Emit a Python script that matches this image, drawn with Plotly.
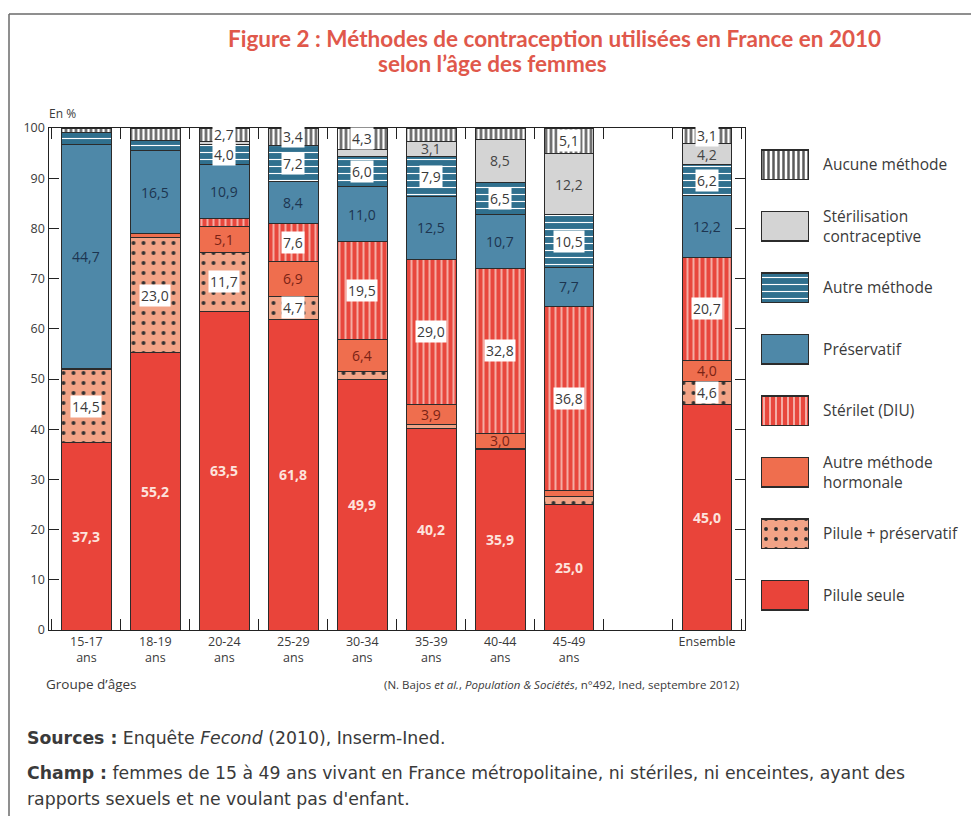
import plotly.graph_objects as go

W, H = 971, 816

categories = ["15-17<br>ans", "18-19<br>ans", "20-24<br>ans", "25-29<br>ans", "30-34<br>ans",
              "35-39<br>ans", "40-44<br>ans", "45-49<br>ans", " ", "Ensemble"]

# stacked from the bottom up, in %
pilule_seule = [37.3, 55.2, 63.5, 61.8, 49.9, 40.2, 35.9, 25.0, None, 45.0]
pilule_preservatif = [14.5, 23.0, 11.7, 4.7, 1.5, 0.8, 0.3, 1.5, None, 4.6]
autre_hormonale = [0.3, 0.8, 5.1, 6.9, 6.4, 3.9, 3.0, 1.2, None, 4.0]
sterilet = [0.0, 0.0, 1.6, 7.6, 19.5, 29.0, 32.8, 36.8, None, 20.7]
preservatif = [44.7, 16.5, 10.9, 8.4, 11.0, 12.5, 10.7, 7.7, None, 12.2]
autre_methode = [2.3, 2.0, 4.0, 7.2, 6.0, 7.9, 6.5, 10.5, None, 6.2]
sterilisation = [0.0, 0.0, 0.5, 0.0, 1.4, 3.1, 8.5, 12.2, None, 4.2]
aucune = [0.9, 2.5, 2.7, 3.4, 4.3, 2.6, 2.3, 5.1, None, 3.1]

series_names = ["Pilule seule", "Pilule + préservatif", "Autre méthode hormonale", "Stérilet (DIU)",
                "Préservatif", "Autre méthode", "Stérilisation contraceptive", "Aucune méthode"]
legend_labels = ["Pilule seule", "Pilule + préservatif", "Autre méthode<br>hormonale", "Stérilet (DIU)",
                 "Préservatif", "Autre méthode", "Stérilisation<br>contraceptive", "Aucune méthode"]
series_values = [pilule_seule, pilule_preservatif, autre_hormonale, sterilet,
                 preservatif, autre_methode, sterilisation, aucune]

FONT = "Open Sans"
NOTE_FONT = "DejaVu Sans"
TEXT = "#3a3a3a"
EDGE = "#2b2b2b"

# marker style, label style (text colour, boxed?, bold?)
STYLES = [
    (dict(color="#e9443a"), ("#fde3dd", False, True)),
    (dict(color="#f2a386", pattern=dict(shape=".", fgcolor="#2f2f2f", bgcolor="#f2a386", size=10, solidity=0.12)),
     (TEXT, True, False)),
    (dict(color="#ef6e4e"), ("#7a2315", False, False)),
    (dict(color="#e8473d", pattern=dict(shape="|", fgcolor="#fbe1da", bgcolor="#e8473d", size=6, solidity=0.22)),
     (TEXT, True, False)),
    (dict(color="#4e88a8"), ("#1d3550", False, False)),
    (dict(color="#30708e", pattern=dict(shape="-", fgcolor="#ffffff", bgcolor="#30708e", size=7, solidity=0.16)),
     (TEXT, True, False)),
    (dict(color="#d4d4d4"), ("#444444", False, False)),
    (dict(color="#ffffff", pattern=dict(shape="|", fgcolor="#5c5c5c", bgcolor="#ffffff", size=5, solidity=0.5)),
     (TEXT, True, False)),
]


def px_x(p):
    return p / W


def px_y(p):
    return 1 - p / H


def fmt(v):
    return f"{v:.1f}".replace(".", ",")


def note(x, y, text, size, family=FONT, color=TEXT, xanchor="left", **font_kw):
    return dict(x=px_x(x), y=px_y(y), xref="paper", yref="paper", showarrow=False,
                xanchor=xanchor, yanchor="middle", text=text,
                font=dict(family=family, size=size, color=color, **font_kw))


fig = go.Figure()
annotations = []
cum = [0.0] * len(categories)
for name, vals, (mk, (tcol, boxed, bold)) in zip(series_names, series_values, STYLES):
    fig.add_trace(go.Bar(
        x=categories, y=vals, name=name,
        marker=dict(**mk, line=dict(color=EDGE, width=1)),
        width=0.72, showlegend=False,
        hovertemplate="%{x}<br>" + name + " : %{y:.1f} %<extra></extra>",
    ))
    for i, v in enumerate(vals):
        if v is None:
            continue
        if v >= 2.7:
            txt = fmt(v)
            annotations.append(dict(
                x=categories[i], y=cum[i] + v / 2, xref="x", yref="y",
                xanchor="center", yanchor="middle",
                text=f"<b>{txt}</b>" if bold else txt, showarrow=False,
                font=dict(family=FONT, size=14, color=tcol),
                bgcolor="#ffffff" if boxed else None, borderpad=1,
            ))
        cum[i] += v

# legend drawn as swatches on a small side axis
for name, lab, (mk, _) in zip(series_names, legend_labels, STYLES):
    fig.add_trace(go.Bar(
        x=[1], y=[lab], orientation="h", xaxis="x2", yaxis="y2",
        marker=dict(**mk, line=dict(color=EDGE, width=1.2)),
        width=0.48, showlegend=False, hoverinfo="skip",
    ))

annotations += [
    note(554, 38, "Figure 2 : Méthodes de contraception utilisées en France en 2010", 22.5,
         family="Lato", color="#e0584b", xanchor="center", weight="bold"),
    note(492, 64, "selon l’âge des femmes", 22.5,
         family="Lato", color="#e0584b", xanchor="center", weight="bold"),
    note(47, 114, "En %", 12),
    note(44, 684, "Groupe d’âges", 13.5),
    note(741, 684, "(N. Bajos <i>et al.</i>, <i>Population & Sociétés</i>, n°492, Ined, septembre 2012)",
         11.5, xanchor="right"),
    note(25, 738, "<b>Sources :</b> Enquête <i>Fecond</i> (2010), Inserm-Ined.", 17.3, family=NOTE_FONT),
    note(25, 773, "<b>Champ :</b> femmes de 15 à 49 ans vivant en France métropolitaine, "
                  "ni stériles, ni enceintes, ayant des", 17.3, family=NOTE_FONT),
    note(25, 799, "rapports sexuels et ne voulant pas d'enfant.", 17.3, family=NOTE_FONT),
]

fig.update_layout(
    template="none",
    width=W, height=H,
    margin=dict(l=0, r=0, t=0, b=0, pad=0),
    paper_bgcolor="#ffffff", plot_bgcolor="#ffffff",
    barmode="stack",
    showlegend=False,
    font=dict(family=FONT, size=12, color=TEXT),
    annotations=annotations,
    shapes=[
        dict(type="line", xref="paper", yref="paper", x0=px_x(9), x1=1.01, y0=px_y(14), y1=px_y(14),
             line=dict(color="#6a6a6a", width=1.5)),
        dict(type="line", xref="paper", yref="paper", x0=px_x(9), x1=px_x(9), y0=px_y(14), y1=-0.01,
             line=dict(color="#6a6a6a", width=1.5)),
    ],
    xaxis=dict(
        domain=[px_x(48.5), px_x(745)], type="category", range=[-0.55, 9.55],
        categoryorder="array", categoryarray=categories,
        showline=True, linecolor="#222", linewidth=1.2, mirror="ticks",
        ticks="inside", tickson="boundaries", ticklen=11, tickcolor="#222", tickwidth=1,
        showgrid=False, zeroline=False, automargin=False,
        tickfont=dict(family=FONT, size=12.5, color=TEXT),
    ),
    yaxis=dict(
        domain=[px_y(630), px_y(128)], range=[0, 100], tickvals=list(range(0, 101, 10)),
        showline=True, linecolor="#222", linewidth=1.2, mirror="ticks",
        ticks="inside", ticklen=10, tickcolor="#222", tickwidth=1,
        showgrid=False, zeroline=False, automargin=False,
        tickfont=dict(family=FONT, size=12.5, color=TEXT),
    ),
    xaxis2=dict(domain=[px_x(761), px_x(809)], range=[0, 1], anchor="y2", visible=False),
    yaxis2=dict(
        domain=[px_y(626), px_y(134)], type="category", anchor="x2", side="right",
        categoryorder="array", categoryarray=legend_labels,
        showline=False, showgrid=False, zeroline=False, automargin=False,
        ticks="outside", ticklen=10, tickcolor="rgba(0,0,0,0)",
        tickfont=dict(family=FONT, size=15.5, color=TEXT),
    ),
)

fig.write_html("out.html", config={"displayModeBar": False},
               post_script="document.body.style.margin = '0px';")
